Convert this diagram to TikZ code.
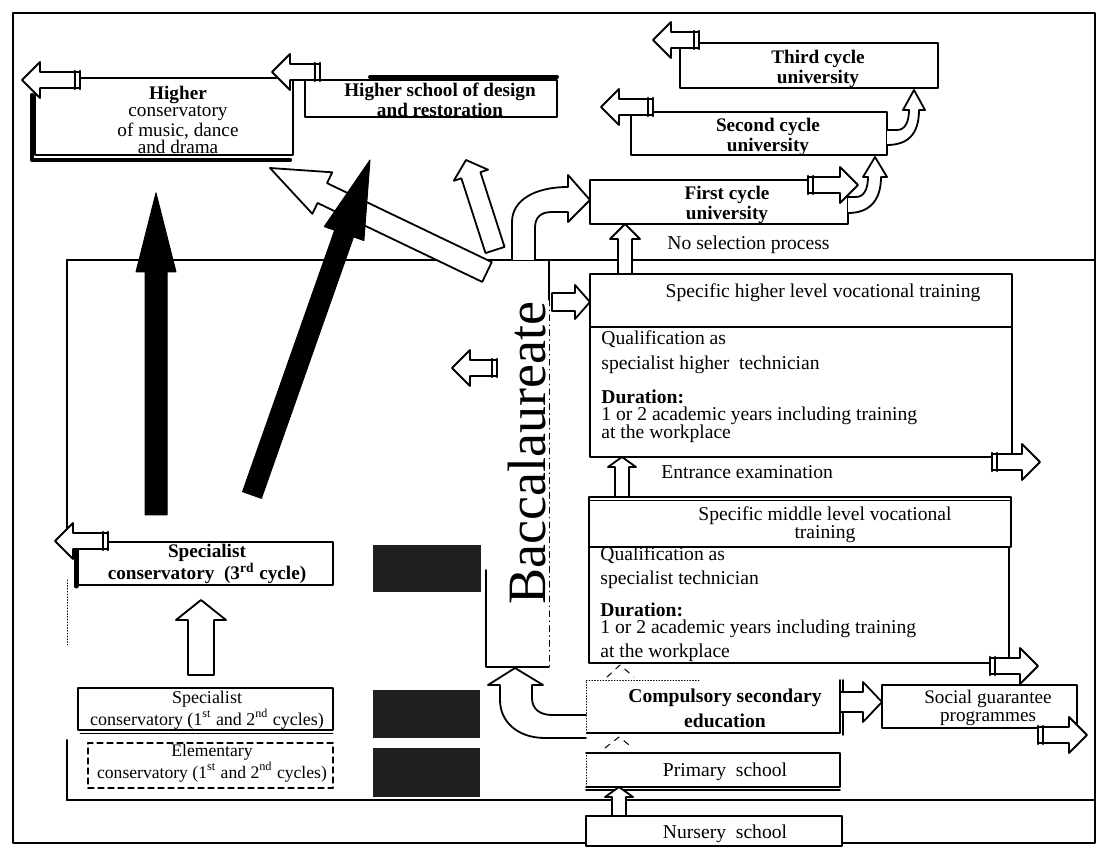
\documentclass[tikz,border=0pt]{standalone}
\usepackage{fontspec}
\setmainfont{Liberation Serif}
\usetikzlibrary{calc,fit}

\def\pxu{0.5pt}
% block arrow from #2 to the tip #3: half shaft #4, half head #5, head length #6 (px)
\newcommand{\blockarrow}[6][hollow]{%
  \coordinate (ba-s) at #2;
  \coordinate (ba-t) at #3;
  \coordinate (ba-b) at ($(ba-t)!{#6*\pxu}!(ba-s)$);
  \path[#1] ($(ba-s)!{#4*\pxu}!90:(ba-t)$) -- ($(ba-b)!{#4*\pxu}!90:(ba-t)$)
    -- ($(ba-b)!{#5*\pxu}!90:(ba-t)$) -- (ba-t)
    -- ($(ba-b)!{#5*\pxu}!-90:(ba-t)$) -- ($(ba-b)!{#4*\pxu}!-90:(ba-t)$)
    -- ($(ba-s)!{#4*\pxu}!-90:(ba-t)$) -- cycle;}
% exit arrow, with the double bar at its tail
\newcommand{\exitarrow}[2]{%
  \blockarrow{#1}{#2}{8}{18}{18}
  \coordinate (ba-r) at ($(ba-s)!{5*\pxu}!(ba-t)$);
  \draw[line width=1.3pt] ($(ba-s)!{9*\pxu}!90:(ba-t)$) -- ($(ba-s)!{9*\pxu}!-90:(ba-t)$)
    ($(ba-r)!{9*\pxu}!90:(ba-t)$) -- ($(ba-r)!{9*\pxu}!-90:(ba-t)$);}

\tikzset{
  frame/.style={line width=1pt},
  box/.style={draw, line width=0.9pt, fill=white, inner sep=0pt},
  hollow/.style={draw, line width=0.9pt, fill=white},
  darkarrow/.style={draw, fill=black, line width=0.5pt},
  block/.style={fill=black!88, inner sep=0pt},
  txt/.style={inner sep=0pt, align=center, font=\fontsize{9.6}{8}\selectfont},
  btxt/.style={txt, font=\fontsize{9.6}{8}\selectfont\bfseries},
  ltxt/.style={inner sep=0pt, anchor=west, align=left, font=\fontsize{9.8}{9}\selectfont},
}

\begin{document}
\begin{tikzpicture}[x=0.5pt, y=-0.5pt, line join=round, line cap=round]
\useasboundingbox (0,0) rectangle (1100,850);

% frame and inner field
\draw[frame] (13,13) rectangle (1095,843);
\draw[frame] (67,260) -- (1095,260) (67,800) -- (1095,800);
\draw[frame] (67,260) -- (67,530) (67,740) -- (67,800);
\draw[densely dotted] (67,580) -- (67,645);

% higher studies
\node[box, fit={(35,78)(293,155)}] (hcons) {};
\draw[line width=2.2pt] (32,95) -- (32,160) -- (290,160);
\node[box, fit={(305,80)(557,117)}] (hdesign) {};
\draw[line width=2pt] (370,77) -- (557,77);
\node[box, fit={(680,43)(938,88)}] (third) {};
\node[box, fit={(631,112)(887,155)}] (second) {};
\node[box, fit={(590,180)(848,224)}] (first) {};

% vocational training
\node[box, fit={(590,274)(1012,327)}] (hvoc) {};
\node[box, fit={(590,327)(1012,457)}] (hvocb) {};
\node[box, fit={(589,497)(1011,547)}] (mvoc) {};
\draw (589,500) -- (1011,500);
\node[box, fit={(589,547)(1009,663)}] (mvocb) {};

% compulsory schooling
\node[fill=white, inner sep=0pt, fit={(586,680)(840,733)}] (cse) {};
\draw[densely dotted] (586,733) -- (586,680) -- (700,680);
\draw[line width=0.9pt] (586,733) -- (840,733) -- (840,680) (843,680) -- (843,735);
\node[fill=white, inner sep=0pt, fit={(586,753)(840,787)}] (primary) {};
\draw[densely dotted] (586,787) -- (586,753);
\draw[line width=0.9pt] (586,753) -- (840,753) -- (840,787) -- (586,787) (586,790) -- (840,790);
\node[box, fit={(586,816)(842,846)}] (nursery) {};
\node[box, fit={(882,685)(1077,728)}] (social) {};

% baccalaureate
\draw[line width=0.9pt] (549,260) -- (549,300) (486,570) -- (486,667) -- (549,667);
\draw[dash dot] (549,300) -- (549,667);

% conservatories
\node[box, fit={(78,542)(333,585)}] (spec3) {};
\draw[line width=2.5pt] (76,550) -- (76,586);
\node[box, fit={(78,688)(333,730)}] (spec12) {};
\draw (80,733) -- (333,733);
\node[box, densely dashed, line width=0.6pt, fit={(88,743)(333,788)}] (elem) {};
\node[block, fit={(373,545)(481,592)}] (blk3) {};
\node[block, fit={(373,690)(480,738)}] (blk12) {};
\node[block, fit={(373,748)(480,797)}] (blkel) {};

% texts
\node[txt, font=\fontsize{9.6}{8.8}\selectfont] (hcons-t) at (178,120) {\textbf{Higher}\\conservatory\\of music, dance\\and drama};
\node[btxt] (hdesign-t) at (440,100) {Higher school of design\\and restoration};
\node[btxt] (third-t) at (818,69) {Third cycle\\university};
\node[btxt] (second-t) at (768,137) {Second cycle\\university};
\node[btxt] (first-t) at (727,205) {First cycle\\university};
\node[ltxt] (nosel) at (667,245) {No selection process};
\node[txt, font=\fontsize{9.8}{9}\selectfont] (hvoc-t) at (823,293) {Specific higher level vocational training};
\node[ltxt] (hq1) at (601,339) {Qualification as};
\node[ltxt] (hq2) at (601,365) {specialist higher\ \ technician};
\node[ltxt, font=\fontsize{9.8}{9}\selectfont\bfseries] (hd1) at (601,397) {Duration:};
\node[ltxt] (hd2) at (601,425) {1 or 2 academic years including training\\at the workplace};
\node[ltxt] (entr) at (661,472) {Entrance examination};
\node[txt, font=\fontsize{9.8}{9}\selectfont] (mvoc-t) at (825,525) {Specific middle level vocational\\training};
\node[ltxt] (mq1) at (600,555) {Qualification as};
\node[ltxt] (mq2) at (600,580) {specialist technician};
\node[ltxt, font=\fontsize{9.8}{9}\selectfont\bfseries] (md1) at (600,610) {Duration:};
\node[ltxt, font=\fontsize{9.8}{12}\selectfont] (md2) at (600,641) {1 or 2 academic years including training\\at the workplace};
\node[btxt, font=\fontsize{9.8}{12.5}\selectfont\bfseries] (cse-t) at (725,708) {Compulsory secondary\\education};
\node[txt, font=\fontsize{9.8}{9}\selectfont] (primary-t) at (725,772) {Primary\ \ school};
\node[txt, font=\fontsize{9.8}{9}\selectfont] (nursery-t) at (725,834) {Nursery\ \ school};
\node[txt, font=\fontsize{9.6}{8.6}\selectfont] (social-t) at (988,708) {Social guarantee\\programmes};
\node[rotate=90, inner sep=0pt, font=\fontsize{27}{27}\selectfont] (bacc) at (527,453) {Baccalaureate};
\node[btxt] (spec3-t) at (207,564) {Specialist\\conservatory\ \ (3\textsuperscript{rd} cycle)};
\node[txt, font=\fontsize{9}{7.8}\selectfont] (spec12-t) at (207,710) {Specialist\\conservatory (1\textsuperscript{st} and 2\textsuperscript{nd} cycles)};
\node[txt, font=\fontsize{8.8}{7.8}\selectfont] (elem-t) at (212,763) {Elementary\\conservatory\ (1\textsuperscript{st} and 2\textsuperscript{nd} cycles)};

% curved arrows
\path[hollow] (512,260) -- (512,222) .. controls (512,200) and (535,187) .. (568,187)
  -- (568,175) -- (590,200) -- (568,222) -- (568,212) -- (552,212)
  .. controls (540,212) and (535,218) .. (535,228) -- (535,260);
\path[hollow] (848,197) -- (856,197) .. controls (864,197) and (868,189) .. (868,177)
  -- (863,177) -- (875,157) -- (887,177) -- (881,177)
  .. controls (881,200) and (870,213) .. (848,213);
\path[hollow] (887,130) -- (897,130) .. controls (905,130) and (909,122) .. (909,110)
  -- (903,110) -- (914,90) -- (925,110) -- (919,110)
  .. controls (919,134) and (908,145) .. (887,145);
\path[hollow] (586,738) -- (545,738) .. controls (518,738) and (500,722) .. (500,700)
  -- (500,685) -- (488,685) -- (515,668) -- (543,685) -- (532,685) -- (532,698)
  .. controls (532,709) and (540,715) .. (552,715) -- (586,715);

% straight block arrows
\blockarrow{(625,274)}{(625,224)}{7}{15}{15}
\blockarrow{(552,302)}{(590,302)}{9}{17}{15}
\blockarrow{(622,497)}{(622,457)}{7}{14}{10}
\blockarrow{(619,816)}{(619,787)}{7}{14}{10}
\blockarrow{(201,675)}{(201,600)}{13}{25}{20}
\blockarrow{(840,702)}{(882,702)}{10}{20}{19}
\blockarrow{(495,250)}{(466,160)}{10}{18}{16}
\blockarrow{(487,272)}{(270,168)}{11}{23}{58}
\blockarrow[darkarrow]{(156,515)}{(156,193)}{11}{20}{79}
\blockarrow[darkarrow]{(252,495)}{(370,160)}{10}{21}{78}
\draw[dashed, line width=0.5pt] (607,677) -- (620,665) -- (634,677);
\draw[dashed, line width=0.5pt] (605,748) -- (619,737) -- (633,748);

% exits
\exitarrow{(80,80)}{(22,80)}
\exitarrow{(320,72)}{(272,72)}
\exitarrow{(699,40)}{(653,40)}
\exitarrow{(653,107)}{(601,107)}
\exitarrow{(808,185)}{(858,185)}
\exitarrow{(992,462)}{(1040,462)}
\exitarrow{(990,666)}{(1038,666)}
\exitarrow{(1038,735)}{(1087,735)}
\exitarrow{(497,368)}{(452,368)}
\exitarrow{(108,541)}{(55,541)}
\end{tikzpicture}
\end{document}
